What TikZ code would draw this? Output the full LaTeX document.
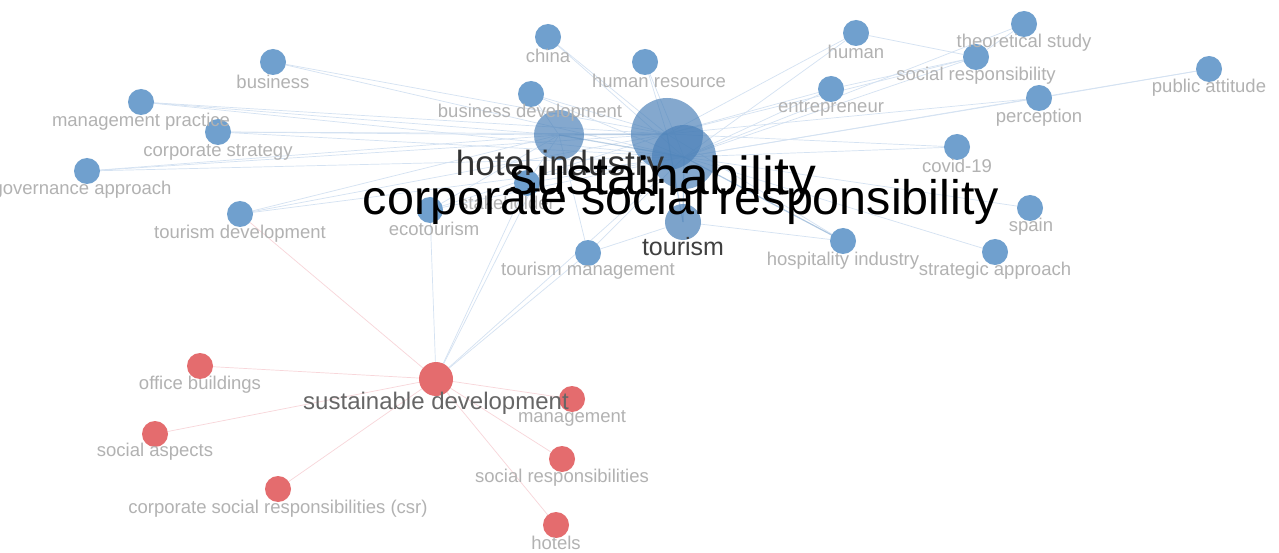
\documentclass[tikz,border=0pt]{standalone}
\usepackage{fontspec}
\setmainfont{Liberation Sans}
\definecolor{nblue}{RGB}{112,160,206}
\definecolor{dblue}{RGB}{74,128,184}
\definecolor{nred}{RGB}{228,108,110}
\definecolor{eblue}{RGB}{212,226,242}
\definecolor{ered}{RGB}{248,214,218}
\definecolor{lgray}{RGB}{178,178,178}
\begin{document}
\begin{tikzpicture}[x=1pt,y=-1pt,
  bnode/.style={circle,inner sep=0pt,minimum size=26pt},
  bignode/.style={circle,inner sep=0pt},
  rnode/.style={circle,inner sep=0pt,minimum size=26pt},
  edgeb/.style={draw=eblue,line width=0.7pt},
  edgebs/.style={draw=dblue!60,line width=1.2pt,opacity=0.6},
  edger/.style={draw=ered,line width=0.7pt},
  lbl/.style={text=lgray,inner sep=0pt,font=\fontsize{18.5}{18.5}\selectfont},
  dlbl/.style={inner sep=0pt}]
\useasboundingbox[fill=white] (0,0) rectangle (1279,553);
% node anchors (blue cluster)
\node[bnode] (business) at (273,62) {};
\node[bnode] (mgmtp) at (141,102) {};
\node[bnode] (corpstr) at (218,132) {};
\node[bnode] (gov) at (87,171) {};
\node[bnode] (tourdev) at (240,214) {};
\node[bnode] (eco) at (430,210) {};
\node[bnode] (stake) at (527,183) {};
\node[bnode] (tourmgmt) at (588,253) {};
\node[bnode] (busdev) at (531,94) {};
\node[bnode] (china) at (548,37) {};
\node[bnode] (hres) at (645,62) {};
\node[bnode] (human) at (856,33) {};
\node[bnode] (entre) at (831,89) {};
\node[bnode] (theo) at (1024,24) {};
\node[bnode] (socresp) at (976,57) {};
\node[bnode] (percep) at (1039,98) {};
\node[bnode] (public) at (1209,69) {};
\node[bnode] (covid) at (957,147) {};
\node[bnode] (spain) at (1030,208) {};
\node[bnode] (strat) at (995,252) {};
\node[bnode] (hosp) at (843,241) {};
\node[bignode,minimum size=50pt] (hotel) at (559,135) {};
\node[bignode,minimum size=72pt] (sust) at (667,134) {};
\node[bignode,minimum size=64pt] (csr) at (684,157) {};
\node[bignode,minimum size=36pt] (tourism) at (683,222) {};
% red cluster
\node[rnode,minimum size=34pt] (sd) at (436,379) {};
\node[rnode] (office) at (200,366) {};
\node[rnode] (socasp) at (155,434) {};
\node[rnode] (csrr) at (278,489) {};
\node[rnode] (mgmt) at (572,399) {};
\node[rnode] (socresps) at (562,459) {};
\node[rnode] (hotels) at (556,525) {};
% edges
\foreach \t in {business,mgmtp,corpstr,gov,tourdev,eco,stake,tourmgmt,busdev,china,hres,human,entre,theo,socresp,percep,public,covid,spain,strat,hosp}{
  \draw[edgeb] (csr.center) -- (\t.center);
}
\foreach \t in {business,mgmtp,corpstr,gov,tourdev,eco,busdev,china,hres,human,entre,socresp,percep,covid,hosp}{
  \draw[edgeb] (sust.center) -- (\t.center);
}
\foreach \t in {mgmtp,corpstr,gov,tourdev,eco,stake,tourmgmt,busdev}{
  \draw[edgeb] (hotel.center) -- (\t.center);
}
\draw[edgeb] (human) -- (socresp);
\draw[edgeb] (theo) -- (socresp);
\draw[edgeb] (entre) -- (socresp);
\draw[edgeb] (percep) -- (public);
\draw[edgeb] (tourism) -- (hosp);
\draw[edgeb] (tourism) -- (tourmgmt);
\draw[edgebs] (hotel.center) -- (sust.center);
\draw[edgebs] (hotel.center) -- (csr.center);
\draw[edgebs] (csr.center) -- (hosp.center);
\draw[edgebs] (csr.center) -- (tourism.center);
\draw[edgebs] (sust.center) -- (tourism.center);
\foreach \t in {office,socasp,csrr,mgmt,socresps,hotels}{
  \draw[edger] (sd.center) -- (\t.center);
}
\draw[edger] (sd) -- (tourdev);
\draw[edgeb] (sd) -- (hotel);
\draw[edgeb] (sd) -- (eco);
\draw[edgeb] (sd) -- (stake);
\draw[edgeb] (sd) -- (tourmgmt);
\draw[edgeb] (sd) -- (csr);
% node discs drawn over the edges
\foreach \t in {business,mgmtp,corpstr,gov,tourdev,eco,stake,tourmgmt,busdev,china,hres,human,entre,theo,socresp,percep,public,covid,spain,strat,hosp}{
  \fill[nblue] (\t.center) circle (13);
}
\fill[dblue,opacity=0.68] (hotel.center) circle (25);
\fill[dblue,opacity=0.68] (sust.center) circle (36);
\fill[dblue,opacity=0.68] (csr.center) circle (32);
\fill[dblue,opacity=0.72] (tourism.center) circle (18);
\foreach \t in {office,socasp,csrr,mgmt,socresps,hotels}{
  \fill[nred] (\t.center) circle (13);
}
\fill[nred] (sd.center) circle (17);
% labels
\node[lbl] (l-business) at (273,82) {business};
\node[lbl] (l-mgmtp) at (141,122) {management practice};
\node[lbl] (l-corpstr) at (218,152) {corporate strategy};
\node[lbl] (l-gov) at (82,190) {governance approach};
\node[lbl] (l-tourdev) at (240,234) {tourism development};
\node[lbl] (l-eco) at (434,229) {ecotourism};
\node[lbl] (l-stake) at (507,203) {stakeholder};
\node[lbl] (l-tourmgmt) at (588,271) {tourism management};
\node[lbl] (l-busdev) at (530,113) {business development};
\node[lbl] (l-china) at (548,56) {china};
\node[lbl] (l-hres) at (659,81) {human resource};
\node[lbl] (l-human) at (856,52) {human};
\node[lbl] (l-entre) at (831,108) {entrepreneur};
\node[lbl] (l-theo) at (1024,43) {theoretical study};
\node[lbl] (l-socresp) at (976,76) {social responsibility};
\node[lbl] (l-percep) at (1039,118) {perception};
\node[lbl] (l-public) at (1209,88) {public attitude};
\node[lbl] (l-covid) at (957,166) {covid-19};
\node[lbl] (l-spain) at (1031,227) {spain};
\node[lbl] (l-strat) at (995,271) {strategic approach};
\node[lbl] (l-hosp) at (843,261) {hospitality industry};
\node[lbl] (l-office) at (200,385) {office buildings};
\node[lbl] (l-socasp) at (155,452) {social aspects};
\node[lbl] (l-csrr) at (278,509) {corporate social responsibilities (csr)};
\node[lbl] (l-mgmt) at (572,418) {management};
\node[lbl] (l-socresps) at (562,478) {social responsibilities};
\node[lbl] (l-hotels) at (556,543) {hotels};
\node[dlbl,text=black!60,font=\fontsize{24}{24}\selectfont] (l-sd) at (436,403) {sustainable development};
\node[dlbl,text=black!75,font=\fontsize{25}{25}\selectfont] (l-tourism) at (683,247) {tourism};
\node[dlbl,text=black!80,font=\fontsize{35}{35}\selectfont] (l-hotel) at (560,166) {hotel industry};
\node[dlbl,text=black,font=\fontsize{53.5}{53.5}\selectfont] (l-sust) at (663,181) {sustainability};
\node[dlbl,text=black,font=\fontsize{48.5}{48.5}\selectfont] (l-csr) at (681,202) {corporate social responsibility};
\end{tikzpicture}
\end{document}
